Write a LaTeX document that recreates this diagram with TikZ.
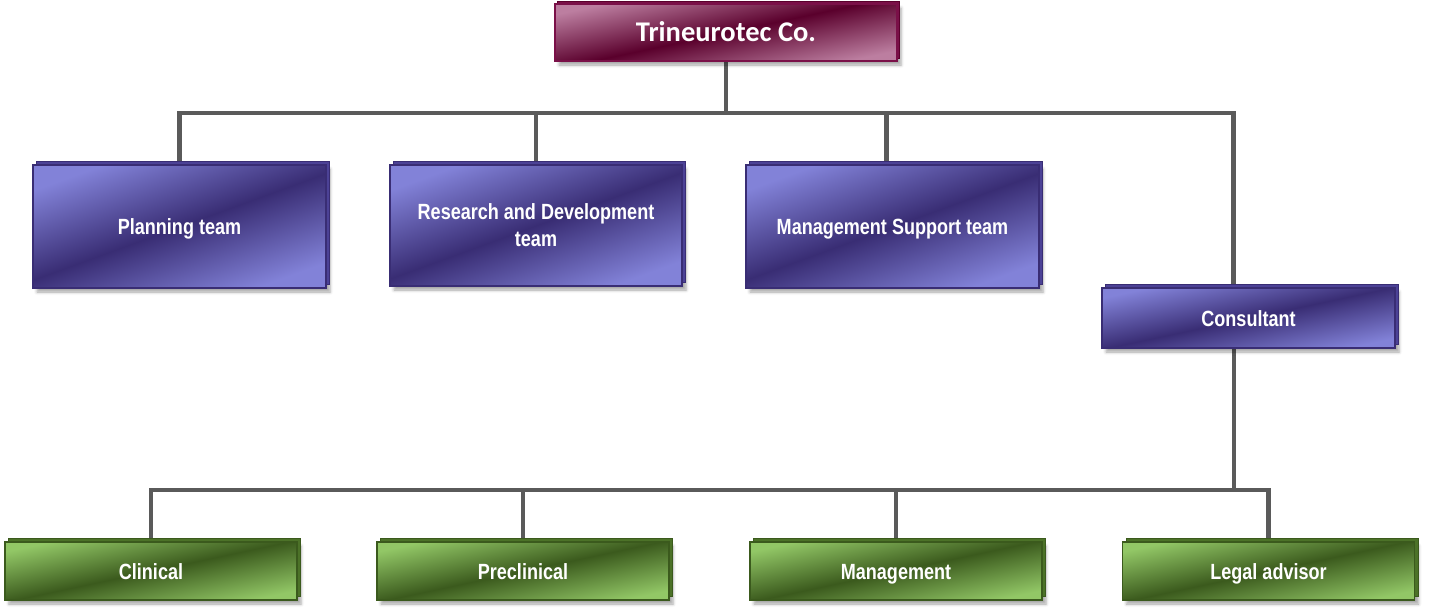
\documentclass[tikz,border=0pt]{standalone}
\usepackage{fontspec}
\newfontfamily\boxfont[FakeStretch=0.82]{Liberation Sans}
\newfontfamily\titlefont{Carlito}
\usetikzlibrary{shadows,shadows.blur}
\definecolor{pL}{HTML}{8282D8}
\definecolor{pD}{HTML}{392D74}
\definecolor{pE}{HTML}{4C4296}
\definecolor{gL}{HTML}{92C766}
\definecolor{gD}{HTML}{3B5A1D}
\definecolor{gE}{HTML}{4C7228}
\definecolor{mL}{HTML}{BC7EA0}
\definecolor{mD}{HTML}{5A002C}
\definecolor{mE}{HTML}{7A1048}
\definecolor{lineC}{HTML}{5A5A5A}
\pgfdeclarelayer{bg}
\pgfsetlayers{bg,main}
\tikzset{
  box/.style={rectangle, inner sep=0pt, align=center, text=white,
    font=\boxfont\bfseries\fontsize{22}{27}\selectfont, line width=1.5pt},
  oneline/.style={text height=20pt, text depth=4pt},
  softshadow/.style={blur shadow={shadow xshift=4pt, shadow yshift=-4pt,
    shadow blur radius=3pt, shadow opacity=35}},
  pbox/.style={box, softshadow,
    copy shadow={shadow xshift=3.5pt, shadow yshift=3.5pt, fill=pE, draw=pD, line width=1pt},
    draw=pD, top color=pL, bottom color=pL, middle color=pD, shading angle=20},
  gbox/.style={box, oneline, softshadow,
    copy shadow={shadow xshift=3.5pt, shadow yshift=3.5pt, fill=gE, draw=gD, line width=1pt},
    draw=gD, top color=gL, bottom color=gL, middle color=gD, shading angle=12,
    minimum width=292pt, minimum height=58pt},
  mbox/.style={box, softshadow,
    copy shadow={shadow xshift=2.5pt, shadow yshift=2.5pt, fill=mE, draw=mD, line width=1pt},
    draw=mE, top color=mL, bottom color=mL, middle color=mD, shading angle=12,
    font=\titlefont\bfseries\fontsize{28.5}{33}\selectfont,
    text height=21pt, text depth=3.5pt},
  conn/.style={draw=lineC, line width=4.5pt}
}
\begin{document}
\begin{tikzpicture}[x=1pt,y=-1pt]
\useasboundingbox (0,0) rectangle (1431,614);
% top
\node[mbox, minimum width=342pt, minimum height=57pt] (top) at (726,32.5) {Trineurotec Co.};
% teams
\node[pbox, oneline, minimum width=293pt, minimum height=123pt] (plan) at (179.5,226.5) {Planning team};
\node[pbox, minimum width=292pt, minimum height=121pt] (rd) at (536,225.5) {Research and Development\\team};
\node[pbox, oneline, minimum width=293pt, minimum height=123pt] (ms) at (892.5,226.5) {Management Support team};
\node[pbox, oneline, shading angle=12, minimum width=293pt, minimum height=60pt] (cons) at (1248.5,318) {Consultant};
% bottom
\node[gbox] (clin) at (151,571) {Clinical};
\node[gbox] (precl) at (523,571) {Preclinical};
\node[gbox] (mgmt) at (896,571) {Management};
\node[gbox] (legal) at (1268.5,571) {Legal advisor};
% connectors
\begin{pgfonlayer}{bg}
\coordinate (b1R) at ([xshift=-15pt]cons.north |- 0,113);
\coordinate (b2R) at (legal.north |- 0,490);
\draw[conn] (plan.north) |- (b1R) -- ([xshift=-15pt]cons.north);
\draw[conn] (top.south) -- (top.south |- b1R);
\draw[conn] (rd.north) -- (rd.north |- b1R);
\draw[conn] ([xshift=-6pt]ms.north) -- ([xshift=-6pt]ms.north |- b1R);
\draw[conn] (clin.north) |- (b2R) -- (legal.north);
\draw[conn] (precl.north) -- (precl.north |- b2R);
\draw[conn] (mgmt.north) -- (mgmt.north |- b2R);
\draw[conn] ([xshift=-14.5pt]cons.south) -- ([xshift=-14.5pt]cons.south |- b2R);
\end{pgfonlayer}
\end{tikzpicture}
\end{document}
